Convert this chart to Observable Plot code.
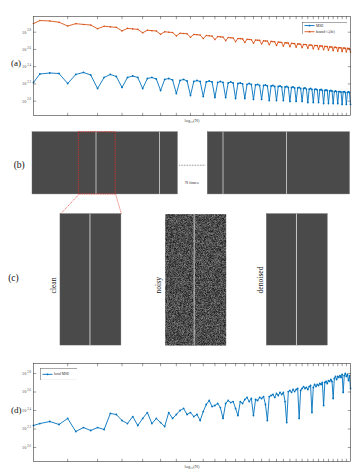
<!DOCTYPE html>
<html><head><meta charset="utf-8">
<script src="https://cdn.jsdelivr.net/npm/d3@7"></script>
<script src="https://cdn.jsdelivr.net/npm/@observablehq/plot@0.6"></script>
<style>
html,body{margin:0;padding:0;background:#fff;}
#fig{position:relative;width:354px;height:472px;overflow:hidden;}
#fig > *{position:absolute;}
</style></head><body><div id="fig"></div>
<script>
// ---------- data ----------
// sample positions N (log-scaled axis), values stored as log10 of the plotted quantity
const N = [3.1, ...d3.range(3.25, 33.001, 0.25)];
const xTicks = d3.range(4, 33);
const yTicks = [2.0, 2.2, 2.4, 2.6, 2.8];

// panel (a): MSE (blue)
const mseA = [2.217,
 2.315,2.327,2.321,2.205, 2.310,2.333,2.304,2.147, 2.275,2.310,2.286,2.159, 2.275,2.292,2.275,2.147,
 2.263,2.275,2.257,2.124, 2.252,2.263,2.246,2.089, 2.240,2.252,2.234,2.066, 2.228,2.240,2.228,2.054,
 2.223,2.234,2.223,2.043, 2.217,2.228,2.217,2.043, 2.211,2.223,2.211,2.031, 2.205,2.211,2.200,2.031,
 2.194,2.205,2.194,2.020, 2.188,2.194,2.182,2.020, 2.182,2.188,2.176,2.008, 2.176,2.182,2.170,2.008,
 2.170,2.176,2.165,2.008, 2.165,2.170,2.159,1.997, 2.159,2.165,2.153,1.997, 2.153,2.159,2.147,1.997,
 2.147,2.153,2.141,1.985, 2.141,2.147,2.136,1.985, 2.136,2.141,2.130,1.985, 2.130,2.136,2.124,1.973,
 2.124,2.130,2.124,1.973, 2.118,2.124,2.118,1.973, 2.112,2.118,2.112,1.973, 2.112,2.112,2.107,1.962,
 2.107,2.112,2.101,1.962, 2.101,2.107,2.101,1.962];
// panel (a): bound (orange)
const boundA = [2.900,
 2.935,2.930,2.916,2.872, 2.899,2.890,2.883,2.840, 2.869,2.862,2.856,2.815, 2.844,2.838,2.833,2.793,
 2.823,2.818,2.814,2.775, 2.805,2.800,2.796,2.757, 2.788,2.785,2.781,2.742, 2.774,2.771,2.767,2.726,
 2.761,2.758,2.755,2.714, 2.749,2.746,2.743,2.702, 2.738,2.735,2.733,2.690, 2.727,2.725,2.722,2.680,
 2.718,2.716,2.713,2.671, 2.709,2.707,2.705,2.663, 2.700,2.698,2.697,2.655, 2.693,2.691,2.689,2.647,
 2.685,2.683,2.681,2.639, 2.678,2.676,2.674,2.632, 2.671,2.669,2.668,2.626, 2.664,2.663,2.661,2.619,
 2.658,2.657,2.655,2.613, 2.652,2.651,2.649,2.607, 2.646,2.645,2.644,2.601, 2.641,2.640,2.638,2.596,
 2.636,2.634,2.633,2.590, 2.631,2.629,2.628,2.585, 2.626,2.624,2.623,2.580, 2.621,2.620,2.619,2.575,
 2.616,2.615,2.614,2.571, 2.612,2.611,2.610,2.570];
// panel (d): local MSE (blue)
const localMseD = [2.238,
 2.259,2.281,2.249,2.314, 2.173,2.216,2.184,2.216, 2.195,2.368,2.357,2.292, 2.259,2.335,2.238,2.314,
 2.378,2.259,2.314,2.270, 2.227,2.378,2.314,2.357, 2.400,2.422,2.357,2.378, 2.335,2.357,2.292,2.389,
 2.465,2.508,2.443,2.454, 2.476,2.432,2.314,2.476, 2.508,2.486,2.497,2.422, 2.346,2.497,2.476,2.519,
 2.541,2.497,2.530,2.346, 2.519,2.508,2.541,2.530, 2.551,2.465,2.292,2.551, 2.562,2.573,2.541,2.584,
 2.562,2.595,2.573,2.595, 2.497,2.270,2.605,2.616, 2.595,2.627,2.605,2.627, 2.638,2.314,2.616,2.638,
 2.659,2.638,2.649,2.627, 2.659,2.670,2.378,2.649, 2.681,2.659,2.681,2.670, 2.692,2.681,2.703,2.454,
 2.703,2.714,2.692,2.724, 2.714,2.735,2.714,2.530, 2.746,2.768,2.735,2.768, 2.757,2.778,2.757,2.789,
 2.595,2.778,2.800,2.768, 2.789,2.724,2.778,2.638];

const legendA = [{label: "MSE", series: "mse"}, {label: "bound \u00b9\u2044\u2099(\u03b4\u03b5)", series: "bound"}];
const legendD = [{label: "local MSE", series: "local"}];

// schematic (b)/(c), in units of one pattern period
const stripsB = [{x1: 0, x2: 2.29}, {x1: 2.76, x2: 5.0}];
const whiteLinesB = [1, 2, 3, 4];
const zoomBox = {x1: 0.73, x2: 1.31};
const panelsC = [
  {name: "clean", x1: 0.44, x2: 1.40, line: 0.905, labelX: 0.335, kind: "clean"},
  {name: "noisy", x1: 2.09, x2: 3.05, line: 2.546, labelX: 1.99, kind: "noisy"},
  {name: "denoised", x1: 3.69, x2: 4.65, line: 4.157, labelX: 3.59, kind: "clean"}
];

// ---------- style ----------
const BLUE = "#0072BD", ORANGE = "#D95319", AX = "#3a3a3a", DARK = "#4a4a4a";
const FONT = "Liberation Serif, DejaVu Serif, serif";
const fig = document.getElementById("fig");
const tickShape = {draw(ctx, l) { ctx.moveTo(0, 0); ctx.lineTo(0, -l); }};

function boxMarks(label) {
  const t = {length: 2.3, anchor: "start", shape: tickShape, stroke: AX, strokeWidth: 0.5};
  return [
    Plot.frame({stroke: AX, strokeWidth: 0.6}),
    Plot.vector(xTicks, {x: d => d, frameAnchor: "bottom", rotate: 0, ...t}),
    Plot.vector(xTicks, {x: d => d, frameAnchor: "top", rotate: 180, ...t}),
    Plot.vector(yTicks, {y: d => d, frameAnchor: "left", rotate: 90, ...t}),
    Plot.vector(yTicks, {y: d => d, frameAnchor: "right", rotate: -90, ...t}),
    Plot.text(yTicks, {y: d => d, frameAnchor: "left", dx: -7.2, text: () => "10", textAnchor: "end", fontSize: 4.2, fill: "#444"}),
    Plot.text(yTicks, {y: d => d, frameAnchor: "left", dx: -2.4, dy: -1.7, text: d => d.toFixed(1), textAnchor: "end", fontSize: 3.0, fill: "#444"}),
    Plot.text(["log\u2081\u2080(N)"], {frameAnchor: "bottom", dy: 6, text: d => d, fontSize: 4.4, fill: "#444"}),
    Plot.text([label], {frameAnchor: "left", dx: -22.5, dy: -2.5, text: d => d, fontSize: 9, fill: "#111"})
  ];
}

function place(el, left, top) { el.style.left = left + "px"; el.style.top = top + "px"; fig.appendChild(el); }

// ---------- panel (a) ----------
const rowsA = N.map((n, i) => ({N: n, mse: mseA[i], bound: boundA[i]}));
const plotA = Plot.plot({
  width: 354, height: 128, marginLeft: 33, marginRight: 4, marginTop: 16, marginBottom: 13,
  style: {fontFamily: FONT, background: "transparent"},
  x: {type: "log", domain: [3.1, 33], axis: null},
  y: {domain: [1.834, 2.982], axis: null},
  marks: [
    Plot.line(rowsA, {x: "N", y: "bound", stroke: ORANGE, strokeWidth: 0.9}),
    Plot.dot(rowsA, {x: "N", y: "bound", r: 0.8, fill: ORANGE}),
    Plot.line(rowsA, {x: "N", y: "mse", stroke: BLUE, strokeWidth: 0.9}),
    Plot.dot(rowsA, {x: "N", y: "mse", r: 0.9, fill: BLUE}),
    ...boxMarks("(a)")
  ]
});
place(plotA, 0, 0);

// ---------- panel (d) ----------
const rowsD = N.map((n, i) => ({N: n, local: localMseD[i]}));
const plotD = Plot.plot({
  width: 354, height: 122, marginLeft: 33, marginRight: 4, marginTop: 13, marginBottom: 11,
  style: {fontFamily: FONT, background: "transparent"},
  x: {type: "log", domain: [3.1, 33], axis: null},
  y: {domain: [1.849, 2.908], axis: null},
  marks: [
    Plot.line(rowsD, {x: "N", y: "local", stroke: BLUE, strokeWidth: 0.9}),
    Plot.dot(rowsD, {x: "N", y: "local", r: 0.9, fill: BLUE}),
    ...boxMarks("(d)")
  ]
});
place(plotD, 0, 350);

// ---------- legends ----------
const colorOf = {mse: BLUE, bound: ORANGE, local: BLUE};
function legend(items, w, h) {
  const rows = items.map((d, i) => ({...d, row: i}));
  const rowY = i => (h / items.length) * (i + 0.5);
  return Plot.plot({
    width: w, height: h, margin: 0,
    style: {fontFamily: FONT, background: "transparent"},
    x: {domain: [0, w], range: [0, w], axis: null},
    y: {domain: [0, h], range: [0, h], axis: null},
    marks: [
      Plot.frame({fill: "white", stroke: "#555", strokeWidth: 0.5}),
      ...rows.map(d => Plot.link([d], {x1: 2, x2: 12, y1: rowY(d.row), y2: rowY(d.row), stroke: colorOf[d.series], strokeWidth: 0.9})),
      ...rows.map(d => Plot.dot([d], {x: 7, y: rowY(d.row), r: 0.9, fill: colorOf[d.series]})),
      Plot.text(rows, {x: 13.5, y: d => rowY(d.row), text: "label", textAnchor: "start", fontSize: 3.6, fill: "#222"})
    ]
  });
}
place(legend(legendA, 45, 12.3), 301.7, 21.7);
place(legend(legendD, 37.3, 11.7), 40, 368.3);

// ---------- schematic (b) & (c) ----------
function hash(a, b) { const h = Math.sin(a * 127.1 + b * 311.7) * 43758.5453; return h - Math.floor(h); }
const noisy = panelsC.find(d => d.kind === "noisy");
const cleanPanels = panelsC.filter(d => d.kind === "clean");
const cy1 = 1.29, cy2 = 3.36;
const plotS = Plot.plot({
  width: 354, height: 225, margin: 0,
  style: {fontFamily: FONT, background: "transparent"},
  x: {domain: [0, 5], range: [32, 349.5], axis: null},
  y: {domain: [0, 3.4], range: [6.7, 222.6], axis: null},
  color: {type: "linear", domain: [0, 1], range: ["#0c0c0c", "#8e8e8e"]},
  marks: [
    Plot.rect(stripsB, {x1: "x1", x2: "x2", y1: 0, y2: 0.98, fill: DARK, stroke: "#6a6a6a", strokeWidth: 0.4}),
    Plot.ruleX(whiteLinesB, {x: d => d, y1: 0, y2: 0.98, stroke: "#d6d6d6", strokeWidth: 0.8}),
    Plot.rect([zoomBox], {x1: "x1", x2: "x2", y1: 0, y2: 0.98, fill: "none", stroke: "#e0302a", strokeWidth: 0.8, strokeDasharray: "1.4,0.9"}),
    Plot.link([0], {x1: 2.31, x2: 2.72, y1: 0.52, y2: 0.52, stroke: "#333", strokeWidth: 0.6, strokeDasharray: "0.8,0.8"}),
    Plot.text(["N times"], {x: 2.51, y: 0.79, text: d => d, fontSize: 4.4, fill: "#333"}),
    Plot.link([0], {x1: zoomBox.x1, y1: 0.98, x2: panelsC[0].x1, y2: cy1, stroke: "#e0302a", strokeWidth: 0.7, strokeDasharray: "1.2,0.9"}),
    Plot.link([0], {x1: zoomBox.x2, y1: 0.98, x2: panelsC[0].x2, y2: cy1, stroke: "#e0302a", strokeWidth: 0.7, strokeDasharray: "1.2,0.9"}),
    Plot.rect(cleanPanels, {x1: "x1", x2: "x2", y1: cy1, y2: cy2, fill: DARK, stroke: "#6a6a6a", strokeWidth: 0.4}),
    Plot.raster({x1: noisy.x1, x2: noisy.x2, y1: cy1, y2: cy2, width: 61, height: 132, imageRendering: "pixelated",
      fill: (x, y) => (hash(x * 97.3, y * 53.1) + hash(x * 41.7 + 3.1, y * 77.9) + hash(x * 13.3, y * 29.7 + 1.7)) / 3}),
    Plot.ruleX(panelsC, {x: "line", y1: cy1, y2: cy2, stroke: "#d6d6d6", strokeWidth: 0.9}),
    Plot.text(panelsC, {x: "labelX", y: 2.54, text: "name", rotate: -90, textAnchor: "start", fontSize: 7.6, fill: "#111"}),
    Plot.text(["(b)"], {x: -0.21, y: 0.51, text: d => d, fontSize: 9.5, fill: "#111"}),
    Plot.text(["(c)"], {x: -0.30, y: 2.29, text: d => d, fontSize: 9.5, fill: "#111"})
  ]
});
place(plotS, 0, 125);
</script></body></html>
